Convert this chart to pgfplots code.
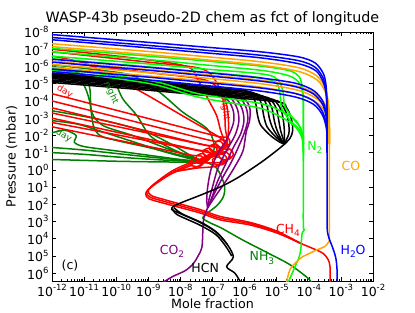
\documentclass[border=0pt]{standalone}
\usepackage{pgfplots}
\pgfplotsset{compat=1.18}
\usepackage{fontspec}
\setmainfont{DejaVu Sans}
\definecolor{mpurple}{HTML}{800080}
\definecolor{mgreen}{HTML}{008000}
\definecolor{mlime}{HTML}{00FF00}
\definecolor{morange}{HTML}{FFA500}
\definecolor{mred}{HTML}{FF0000}
\definecolor{mblue}{HTML}{0000FF}
\newcommand{\tl}[1]{10\raisebox{0.45em}{\fontsize{8.5}{8.5}\selectfont #1}}
\newcommand{\sub}[1]{\raisebox{-0.28em}{\fontsize{9}{9}\selectfont #1}}
\def\minorlist{-20}
\foreach \d in {-12,...,-3}{\foreach \m in {0.30103,0.47712,0.60206,0.69897,0.77815,0.84510,0.90309,0.95424}{\pgfmathsetmacro\v{\d+\m}\xdef\minorlist{\minorlist,\v}}}
\begin{document}
\begin{tikzpicture}
\begin{axis}[
 scale only axis, width=321pt, height=249pt,
 xmin=-12, xmax=-2, ymin=-8, ymax=6.45, y dir=reverse,
 xtick={-12,...,-2},
 xticklabels={\tl{-12},\tl{-11},\tl{-10},\tl{-9},\tl{-8},\tl{-7},\tl{-6},\tl{-5},\tl{-4},\tl{-3},\tl{-2}},
 ytick={-8,...,6},
 yticklabels={\tl{-8},\tl{-7},\tl{-6},\tl{-5},\tl{-4},\tl{-3},\tl{-2},\tl{-1},\tl{0},\tl{1},\tl{2},\tl{3},\tl{4},\tl{5},\tl{6}},
 minor xtick/.expand once=\minorlist,
 tick align=inside, major tick length=4pt, minor tick length=2pt,
 tick style={black, line width=0.6pt},
 axis line style={line width=0.8pt},
 xlabel={Mole fraction}, ylabel={Pressure (mbar)},
 xlabel style={yshift=5pt},
 title={WASP-43b pseudo-2D chem as fct of longitude},
 ticklabel style={font=\fontsize{12.5}{14}\selectfont},
 label style={font=\fontsize{12.7}{15}\selectfont},
 title style={font=\fontsize{14.3}{16}\selectfont, yshift=-3pt},
 every axis plot/.append style={line width=1.5pt, smooth, tension=0.5},
]
% ---------------- NH3 (green) ----------------
\addplot[mgreen] coordinates {(-7.2,-0.45)(-6.9,-0.15)(-6.72,0.4)(-6.62,1.0)(-6.66,1.55)(-6.85,2.05)(-7.15,2.5)(-7.3,2.8)(-7.1,3.05)(-6.7,3.4)(-6.05,4.08)(-5.3,4.8)(-4.59,5.5)(-4.03,6.28)(-3.9,6.6)};
\addplot[mgreen] coordinates {(-12,-3.43)(-11,-3.1)(-10,-2.7)(-9,-2.15)(-8.2,-1.4)(-7.6,-0.75)(-7.2,-0.45)};
\addplot[mgreen] coordinates {(-12,-2.86)(-11.2,-2.65)(-10.5,-2.25)(-9.5,-1.65)(-8.5,-1.05)(-7.6,-0.6)(-7.2,-0.45)};
\addplot[mgreen] coordinates {(-12,-2.15)(-11.6,-2.3)(-11.25,-2.0)(-11.3,-1.6)(-11.0,-1.35)(-10,-1.1)(-9,-0.85)(-8,-0.6)(-7.2,-0.45)};
\addplot[mgreen] coordinates {(-12,-1.3)(-11,-1.15)(-10,-0.95)(-9,-0.75)(-8,-0.58)(-7.2,-0.45)};
\addplot[mgreen] coordinates {(-12,-1.0)(-11,-0.9)(-10,-0.75)(-9,-0.62)(-8,-0.52)(-7.2,-0.45)};
\addplot[mgreen] coordinates {(-12,-0.6)(-11,-0.55)(-10,-0.5)(-9,-0.47)(-8,-0.45)(-7.2,-0.45)};
\addplot[mgreen] coordinates {(-12,-5.9)(-11.5,-5.7)(-11.19,-5.46)(-10.95,-4.7)(-10.82,-3.91)(-10.71,-2.57)(-10.5,-1.99)(-9.98,-1.7)(-9.0,-1.3)(-8.0,-0.85)(-7.2,-0.45)};
\addplot[mgreen] coordinates {(-12,-5.85)(-11.3,-5.65)(-10.97,-5.46)(-10.82,-4.69)(-10.76,-3.34)(-10.41,-2.57)(-9.48,-1.99)(-8.5,-1.3)(-7.6,-0.7)(-7.2,-0.45)};
\addplot[mgreen] coordinates {(-12,-6.0)(-11,-5.72)(-10.19,-5.46)(-9.79,-4.11)(-9.35,-3.14)(-8.95,-1.99)(-8.3,-1.25)(-7.6,-0.7)(-7.2,-0.45)};
\addplot[mgreen] coordinates {(-12,-6.1)(-10.5,-5.78)(-9.48,-5.46)(-8.64,-4.49)(-7.92,-3.34)(-7.17,-2.39)(-6.95,-1.5)(-7.0,-0.9)(-7.2,-0.45)};
% ---------------- CH4 (red) ----------------
\addplot[mred] coordinates {(-7.6,-0.4)(-8.2,0.1)(-8.64,0.61)(-8.95,1.05)(-9.05,1.3)(-8.95,1.58)(-8.43,1.87)(-7.39,2.4)(-6.77,2.8)(-5.83,3.12)(-5.0,3.6)(-4.27,4.25)(-3.8,4.62)(-3.55,4.85)(-3.4,5.2)(-3.34,5.6)(-3.34,6.6)};
\addplot[mred] coordinates {(-7.6,-0.5)(-8.2,0.0)(-8.6,0.5)(-8.9,0.95)(-9.0,1.22)(-8.9,1.5)(-8.4,1.78)(-7.39,2.3)(-6.77,2.7)(-5.83,3.05)(-5.0,3.55)(-4.27,4.25)};
\addplot[mred] coordinates {(-7.6,-0.3)(-8.25,0.2)(-8.7,0.72)(-9.0,1.15)(-9.08,1.4)(-8.98,1.68)(-8.45,1.97)(-7.39,2.5)(-6.77,2.9)(-5.83,3.2)(-5.0,3.66)(-4.27,4.25)};
\addplot[mred] coordinates {(-12,-4.42)(-10,-3.46)(-8.5,-2.74)(-6.85,-1.95)(-6.55,-1.9)(-6.45,-1.6)(-6.6,-1.3)(-6.85,-1.35)(-6.9,-1.6)(-6.7,-1.75)(-6.55,-1.45)(-6.8,-1.15)(-7.2,-0.8)(-7.6,-0.4)};
\addplot[mred] coordinates {(-12,-4.0)(-10,-3.07)(-8.5,-2.37)(-7.05,-1.7)(-6.75,-1.65)(-6.65,-1.35)(-6.8,-1.05)(-7.05,-1.1)(-7.1,-1.35)(-6.9,-1.5)(-6.75,-1.2)(-7.0,-0.9)(-7.3,-0.65)(-7.6,-0.4)};
\addplot[mred] coordinates {(-12,-3.6)(-10,-2.69)(-8.5,-2.01)(-7.25,-1.45)(-6.95,-1.4)(-6.85,-1.1)(-7.0,-0.8)(-7.25,-0.85)(-7.3,-1.1)(-7.1,-1.25)(-6.95,-0.95)(-7.2,-0.65)(-7.6,-0.4)};
\addplot[mred] coordinates {(-12,-3.3)(-10,-2.52)(-8.5,-1.93)(-6.75,-1.25)(-6.45,-1.2)(-6.35,-0.9)(-6.5,-0.6)(-6.75,-0.65)(-6.8,-0.9)(-6.6,-1.05)(-6.45,-0.75)(-6.7,-0.45)(-7.2,-0.4)(-7.6,-0.4)};
\addplot[mred] coordinates {(-12,-3.0)(-10,-2.19)(-8.5,-1.58)(-7.45,-1.15)(-7.15,-1.1)(-7.05,-0.8)(-7.2,-0.5)(-7.45,-0.55)(-7.5,-0.8)(-7.3,-0.95)(-7.15,-0.65)(-7.4,-0.45)(-7.6,-0.4)};
\addplot[mred] coordinates {(-12,-2.75)(-10,-2.04)(-8.5,-1.5)(-6.95,-0.95)(-6.65,-0.9)(-6.55,-0.6)(-6.7,-0.3)(-6.95,-0.35)(-7.0,-0.6)(-6.8,-0.75)(-6.65,-0.45)(-6.9,-0.2)(-7.5,-0.1)(-8.2,0.1)};
\addplot[mred] coordinates {(-12,-2.5)(-10,-1.74)(-8.5,-1.17)(-7.65,-0.85)(-7.35,-0.8)(-7.25,-0.5)(-7.4,-0.2)(-7.65,-0.25)(-7.7,-0.5)(-7.5,-0.65)(-7.35,-0.35)(-7.6,-0.1)(-8.2,0.1)};
\addplot[mred] coordinates {(-12,-6.6)(-11,-6.2)(-10.14,-5.46)(-9.0,-4.3)(-7.9,-3.1)(-6.87,-1.99)(-6.6,-1.6)(-6.5,-1.2)(-6.75,-0.9)(-7.2,-0.65)(-7.6,-0.4)};
\addplot[mred] coordinates {(-12,-7.0)(-9.5,-6.5)(-7.8,-6.0)(-7.45,-5.2)(-7.08,-3.9)(-6.87,-3.14)(-6.75,-2.3)(-6.62,-1.5)(-6.8,-0.95)(-7.2,-0.65)(-7.6,-0.4)};
\addplot[mred] coordinates {(-12,-6.85)(-9,-6.25)(-7.4,-5.9)(-6.95,-5.3)(-6.7,-4.3)(-6.62,-3.3)(-6.6,-2.4)(-6.55,-1.7)(-6.7,-1.1)(-7.1,-0.7)(-7.6,-0.4)};
\addplot[mred] coordinates {(-12,-6.3)(-9,-5.65)(-7.3,-5.25)(-6.75,-4.6)(-6.55,-3.7)(-6.5,-2.7)(-6.52,-1.9)(-6.6,-1.3)(-7.0,-0.8)(-7.6,-0.4)};
% ---------------- CO2 (purple) ----------------
\addplot[mpurple] coordinates {(-7.15,2.2)(-7.27,2.8)(-7.3,3.5)(-7.33,4.5)(-7.45,5.0)(-7.6,5.45)(-7.85,5.85)(-8.25,6.2)(-8.6,6.6)};
\addplot[mpurple] coordinates {(-12,-5.62)(-9,-5.12)(-7.4,-4.77)(-6.5,-4.55)(-6.15,-4.2)(-5.95,-3.6)(-5.9,-2.9)(-6.0,-2.2)(-6.15,-1.5)(-6.4,-0.5)(-6.7,0.5)(-6.95,1.4)(-7.15,2.2)};
\addplot[mpurple] coordinates {(-12,-5.56)(-9,-5.05)(-7.4,-4.7)(-6.6,-4.48)(-6.28,-4.15)(-6.08,-3.55)(-6.02,-2.85)(-6.12,-2.1)(-6.35,-1.3)(-6.6,-0.3)(-6.85,0.7)(-7.0,1.5)(-7.15,2.2)};
\addplot[mpurple] coordinates {(-12,-5.5)(-9,-4.98)(-7.4,-4.63)(-6.7,-4.42)(-6.4,-4.1)(-6.22,-3.5)(-6.18,-2.8)(-6.3,-2.0)(-6.6,-1.0)(-6.85,0.0)(-7.0,1.0)(-7.12,1.8)(-7.15,2.2)};
\addplot[mpurple] coordinates {(-12,-5.45)(-9,-4.92)(-7.4,-4.57)(-6.8,-4.35)(-6.5,-4.0)(-6.35,-3.4)(-6.35,-2.7)(-6.55,-1.8)(-6.85,-0.9)(-7.05,0.0)(-7.15,1.0)(-7.18,1.8)(-7.15,2.2)};
\addplot[mpurple] coordinates {(-12,-5.4)(-9,-4.87)(-7.4,-4.5)(-6.3,-4.28)(-5.95,-4.0)(-5.83,-3.5)(-5.85,-2.8)(-5.95,-2.2)(-6.05,-1.1)(-6.3,-0.2)(-6.6,0.7)(-6.9,1.5)(-7.15,2.2)};
% ---------------- HCN (black) ----------------
\addplot[black] coordinates {(-4.75,-1.5)(-5.0,-1.12)(-5.4,-0.55)(-5.83,0.0)(-6.3,0.55)(-6.77,1.0)(-7.39,1.48)(-7.9,1.85)(-8.2,2.1)(-8.27,2.3)(-8.05,2.5)(-7.39,3.05)(-6.9,3.6)(-6.55,4.3)(-6.35,5.05)(-6.56,5.62)(-6.3,6.0)(-6.1,6.6)};
\addplot[black] coordinates {(-8.25,2.25)(-8.1,2.6)(-7.4,3.2)(-6.9,3.75)(-6.6,4.4)(-6.4,5.0)};
\addplot[black] coordinates {(-8.2,2.2)(-7.95,2.55)(-7.3,3.1)(-6.85,3.65)(-6.55,4.3)};
\addplot[black] coordinates {(-12,-5.6)(-9,-5.15)(-7.4,-4.88)(-6.1,-4.65)(-5.8,-4.4)(-5.66,-3.9)(-5.6,-3.2)(-5.5,-2.6)(-5.2,-2.0)(-4.9,-1.6)(-4.75,-1.5)};
\addplot[black] coordinates {(-12,-5.52)(-9,-5.07)(-7.4,-4.8)(-5.9,-4.55)(-5.6,-4.28)(-5.47,-3.8)(-5.4,-3.1)(-5.3,-2.5)(-5.05,-1.95)(-4.8,-1.55)};
\addplot[black] coordinates {(-12,-5.45)(-9,-5.0)(-7.4,-4.73)(-5.75,-4.45)(-5.45,-4.18)(-5.3,-3.7)(-5.23,-3.0)(-5.12,-2.4)(-4.95,-1.9)(-4.78,-1.5)};
\addplot[black] coordinates {(-12,-5.37)(-9,-4.92)(-7.4,-4.65)(-5.6,-4.35)(-5.3,-4.08)(-5.15,-3.6)(-5.08,-2.9)(-5.0,-2.35)(-4.88,-1.85)(-4.77,-1.5)};
\addplot[black] coordinates {(-12,-5.3)(-9,-4.85)(-7.4,-4.58)(-5.45,-4.26)(-5.15,-3.98)(-5.0,-3.5)(-4.93,-2.8)(-4.88,-2.3)(-4.8,-1.8)(-4.76,-1.5)};
\addplot[black] coordinates {(-12,-5.22)(-9,-4.77)(-7.4,-4.5)(-5.3,-4.16)(-5.0,-3.88)(-4.85,-3.4)(-4.78,-2.7)(-4.76,-2.2)(-4.76,-1.8)(-4.76,-1.5)};
\addplot[black] coordinates {(-12,-5.15)(-9,-4.7)(-7.4,-4.43)(-5.15,-4.06)(-4.85,-3.78)(-4.7,-3.3)(-4.62,-2.6)(-4.62,-2.1)(-4.7,-1.75)(-4.76,-1.5)};
\addplot[black] coordinates {(-12,-5.07)(-9,-4.62)(-7.4,-4.35)(-5.0,-3.95)(-4.7,-3.62)(-4.55,-3.0)(-4.5,-2.3)(-4.58,-1.85)(-4.75,-1.5)};
% ---------------- N2 (lime) ----------------
\addplot[mlime] coordinates {(-4.17,-2.0)(-4.17,1.0)(-4.17,3.3)(-4.12,3.45)(-4.2,3.62)(-4.22,3.9)(-4.25,4.6)(-4.3,5.05)(-4.43,5.62)(-4.66,6.6)};
\addplot[mlime] coordinates {(-12,-7.05)(-9,-6.6)(-7.4,-6.35)(-5.5,-6.02)(-4.6,-5.75)(-4.3,-5.4)(-4.2,-4.8)(-4.17,-4.0)(-4.17,-1.5)};
\addplot[mlime] coordinates {(-12,-6.85)(-9,-6.4)(-7.4,-6.12)(-5.5,-5.78)(-4.65,-5.48)(-4.32,-5.1)(-4.2,-4.5)(-4.17,-3.7)(-4.17,-1.5)};
\addplot[mlime] coordinates {(-12,-6.6)(-9,-6.15)(-7.4,-5.88)(-5.4,-5.55)(-4.95,-5.2)(-4.8,-4.5)(-4.75,-3.7)(-4.5,-3.0)(-4.25,-2.4)(-4.17,-1.5)};
\addplot[mlime] coordinates {(-12,-6.45)(-9,-5.98)(-7.4,-5.7)(-5.7,-5.4)(-5.05,-5.1)(-4.9,-4.5)(-4.85,-3.6)(-4.6,-2.9)(-4.3,-2.35)(-4.18,-1.7)(-4.17,-1.0)};
\addplot[mlime] coordinates {(-12,-5.9)(-9,-5.2)(-7.4,-4.4)(-5.5,-3.85)(-4.8,-3.35)(-4.4,-2.85)(-4.22,-2.2)(-4.17,-1.5)(-4.17,-1.0)};
\addplot[mlime] coordinates {(-12,-5.78)(-9,-5.02)(-7.4,-4.2)(-5.6,-3.62)(-4.9,-3.1)(-4.45,-2.55)(-4.23,-1.95)(-4.17,-1.2)(-4.17,-0.5)};
% ---------------- CO (orange) ----------------
\addplot[morange] coordinates {(-3.36,-2.5)(-3.36,1.0)(-3.36,3.9)(-3.39,4.2)(-3.5,4.45)(-3.72,4.62)(-3.96,4.83)(-4.2,5.05)(-4.38,5.33)(-4.59,5.8)(-4.7,6.6)};
\addplot[morange] coordinates {(-12,-7.32)(-9,-6.87)(-7.4,-6.6)(-5.5,-6.27)(-4.3,-5.92)(-3.75,-5.45)(-3.5,-4.8)(-3.4,-4.0)(-3.37,-3.0)(-3.36,-1.5)};
\addplot[morange] coordinates {(-12,-7.15)(-9,-6.68)(-7.4,-6.42)(-5.5,-6.08)(-4.3,-5.7)(-3.73,-5.2)(-3.48,-4.5)(-3.38,-3.7)(-3.36,-2.8)(-3.36,-1.5)};
\addplot[morange] coordinates {(-12,-6.3)(-9,-5.82)(-7.4,-5.55)(-5.5,-5.2)(-4.3,-4.82)(-3.7,-4.3)(-3.45,-3.6)(-3.37,-2.8)(-3.36,-1.5)};
\addplot[morange] coordinates {(-12,-6.12)(-9,-5.64)(-7.4,-5.36)(-5.5,-5.0)(-4.3,-4.6)(-3.7,-4.05)(-3.42,-3.3)(-3.36,-2.5)(-3.36,-1.5)};
\addplot[morange] coordinates {(-12,-5.95)(-9,-5.45)(-7.4,-5.18)(-5.5,-4.8)(-4.3,-4.38)(-3.68,-3.8)(-3.4,-3.0)(-3.36,-2.2)(-3.36,-1.5)};
% ---------------- H2O (blue) ----------------
\addplot[mblue] coordinates {(-3.43,-3.0)(-3.43,-1.0)(-3.43,1.0)(-3.43,3.3)(-3.38,3.9)(-3.26,4.5)(-3.16,5.1)(-3.12,5.8)(-3.12,6.6)};
\addplot[mblue] coordinates {(-12,-7.85)(-9,-7.4)(-7.4,-7.15)(-5.5,-6.85)(-4.3,-6.55)(-3.8,-6.2)(-3.55,-5.6)(-3.47,-5.0)(-3.44,-4.2)(-3.43,-3.0)(-3.43,-2.0)};
\addplot[mblue] coordinates {(-12,-7.68)(-9,-7.22)(-7.4,-6.97)(-5.5,-6.65)(-4.3,-6.33)(-3.8,-5.95)(-3.56,-5.35)(-3.47,-4.7)(-3.44,-3.9)(-3.43,-2.5)};
\addplot[mblue] coordinates {(-12,-7.55)(-9,-7.08)(-7.4,-6.82)(-5.5,-6.5)(-4.3,-6.15)(-3.78,-5.75)(-3.55,-5.1)(-3.46,-4.4)(-3.44,-3.6)(-3.43,-2.5)};
\addplot[mblue] coordinates {(-12,-6.42)(-9,-5.95)(-7.4,-5.68)(-5.5,-5.33)(-4.4,-5.02)(-3.85,-4.6)(-3.57,-4.0)(-3.46,-3.3)(-3.43,-2.5)(-3.43,-1.0)};
\addplot[mblue] coordinates {(-12,-6.25)(-9,-5.78)(-7.4,-5.5)(-5.5,-5.15)(-4.4,-4.82)(-3.85,-4.4)(-3.57,-3.8)(-3.46,-3.1)(-3.43,-2.3)(-3.43,-1.0)};
\addplot[mblue] coordinates {(-12,-5.85)(-9,-5.38)(-7.4,-5.1)(-5.5,-4.75)(-4.4,-4.42)(-3.85,-4.0)(-3.58,-3.4)(-3.46,-2.7)(-3.43,-2.0)(-3.43,-1.0)};
\addplot[mblue] coordinates {(-12,-5.7)(-9,-5.22)(-7.4,-4.93)(-5.5,-4.57)(-4.4,-4.22)(-3.85,-3.8)(-3.58,-3.2)(-3.46,-2.5)(-3.43,-1.8)(-3.43,-1.0)};
% ---------------- labels ----------------
\node[text=mlime, font=\fontsize{12.5}{14}\selectfont] at (axis cs:-3.81,-1.29) {N\sub{2}};
\node[text=morange, font=\fontsize{12.5}{14}\selectfont] at (axis cs:-2.69,-0.25) {CO};
\node[text=mred, font=\fontsize{12.5}{14}\selectfont] at (axis cs:-4.65,3.5) {CH\sub{4}};
\node[text=mblue, font=\fontsize{12.5}{14}\selectfont] at (axis cs:-2.62,4.72) {H\sub{2}O};
\node[text=mgreen, font=\fontsize{12.5}{14}\selectfont] at (axis cs:-5.46,5.12) {NH\sub{3}};
\node[text=black, font=\fontsize{12.5}{14}\selectfont] at (axis cs:-7.23,5.7) {HCN};
\node[text=mpurple, font=\fontsize{12.5}{14}\selectfont] at (axis cs:-8.26,4.72) {CO\sub{2}};
\node[text=black, font=\fontsize{12.5}{14}\selectfont] at (axis cs:-11.44,5.58) {(c)};
\node[text=mred, font=\fontsize{9}{10}\selectfont, rotate=-30] at (axis cs:-11.6,-4.53) {day};
\node[text=mgreen, font=\fontsize{9}{10}\selectfont, rotate=-65] at (axis cs:-10.16,-4.47) {night};
\node[text=mgreen, font=\fontsize{9}{10}\selectfont, rotate=-30] at (axis cs:-11.63,-1.99) {day};
\node[text=mred, font=\fontsize{9}{10}\selectfont, rotate=-82] at (axis cs:-6.61,-3.55) {night};
\end{axis}
\pgfresetboundingbox
\path[use as bounding box] (-52pt,-32pt) rectangle (363pt,281pt);
\end{tikzpicture}
\end{document}
